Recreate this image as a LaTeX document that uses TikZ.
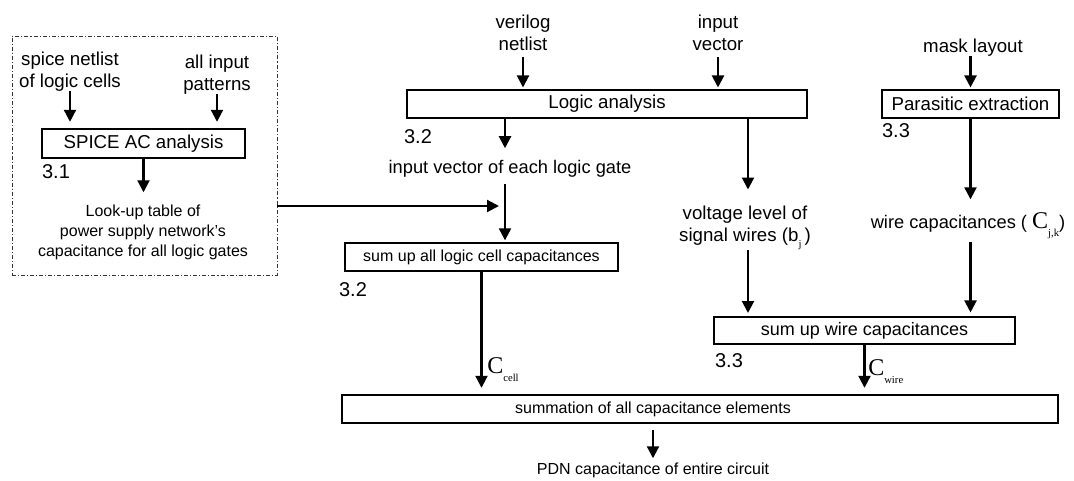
\documentclass[tikz,border=0pt]{standalone}
\usepackage{fontspec}
\setmainfont{Liberation Sans}
\newfontfamily\timesfont{Liberation Serif}
\usetikzlibrary{arrows.meta}

\newcommand{\capC}[1]{{\timesfont\fontsize{18}{18}\selectfont C\raisebox{-6pt}{\fontsize{8}{8}\selectfont #1}}}
\newcommand{\subsc}[1]{\raisebox{-5pt}{\timesfont\fontsize{8}{8}\selectfont #1}}

\tikzset{
  box/.style={draw, line width=0.8pt, inner sep=0pt, minimum height=21pt, font=\fontsize{14}{16.5}\selectfont},
  txt/.style={inner sep=0pt, align=center, font=\fontsize{14}{16.5}\selectfont},
  smalltxt/.style={inner sep=0pt, align=center, font=\fontsize{12}{15}\selectfont},
  numlbl/.style={inner sep=0pt, font=\fontsize{15}{15}\selectfont},
  arr/.style={-{Triangle[width=9pt,length=9pt]}, line width=1.6pt},
  grp/.style={draw=black!80, line width=0.7pt, inner sep=0pt, dash pattern=on 3pt off 1.5pt on 0.8pt off 1.5pt},
}

\begin{document}
\begin{tikzpicture}[x=0.75pt, y=-0.75pt]
    \useasboundingbox (0,0) rectangle (1074,481);
    % cell library block
    \node[grp, minimum width=198.75pt, minimum height=179.25pt] (lutgroup) at (144.5,155.5) {};
    \node[txt] (spicenet) at (70,71.5) {spice netlist\\of logic cells};
    \node[txt] (allpat) at (217,74.5) {all input\\patterns};
    \node[box, minimum width=152.25pt, minimum height=21.75pt] (spice) at (143.5,143.5) {SPICE AC analysis};
    \node[numlbl] (n31) at (56,172) {3.1};
    \node[smalltxt] (lut) at (143,232) {Look-up table of\\power supply network’s\\capacitance for all logic gates};
    \draw[arr, shorten >=5pt] (spicenet.south) -- (spicenet.south |- spice.north);
    \draw[arr, shorten >=5pt] (allpat.south) -- (allpat.south |- spice.north);
    \draw[arr, shorten >=9pt] (spice.south) -- (spice.south |- lut.north);
    % logic analysis
    \node[txt] (verilog) at (523,32.5) {verilog\\netlist};
    \node[txt] (invec) at (718,32.5) {input\\vector};
    \node[box, minimum width=300pt] (logic) at (607,104) {Logic analysis};
    \node[numlbl] (n32a) at (418,137) {3.2};
    \node[txt, font=\fontsize{13.7}{16}\selectfont] (gatevec) at (510,169) {input vector of each logic gate};
    \coordinate (cellin) at (505,243);
    \coordinate (lutout) at (499,206);
    \node[box, minimum width=204.75pt, font=\fontsize{12}{14}\selectfont] (sumlogic) at (481.5,257) {sum up all logic cell capacitances};
    \node[numlbl] (n32b) at (353,290) {3.2};
    \draw[arr, shorten <=5pt, shorten >=1.5pt] (verilog.south) -- (verilog.south |- logic.north);
    \draw[arr, shorten <=5pt, shorten >=1.5pt] (invec.south) -- (invec.south |- logic.north);
    \draw[arr, shorten >=9pt] (logic.south -| cellin) -- (gatevec.north -| cellin);
    \draw[arr, shorten <=5pt, shorten >=2pt] (gatevec.south -| cellin) -- (cellin);
    \draw[arr] (lutgroup.east |- lutout) -- (lutout);
    % wires
    \node[txt] (mask) at (973,47.5) {mask layout};
    \node[box, minimum width=132.75pt] (parasitic) at (970.5,104) {Parasitic extraction};
    \node[numlbl] (n33a) at (896,131) {3.3};
    \node[txt] (volt) at (745,228) {voltage level of\\signal wires (b\subsc{j}\,)};
    \node[txt, font=\fontsize{13.7}{16}\selectfont] (wirecap) at (968,226) {wire capacitances ( \capC{j,k})};
    \coordinate (wirein) at (748,317);
    \node[box, minimum width=225.75pt, minimum height=20.25pt, font=\fontsize{13.5}{16}\selectfont] (sumwire) at (864.5,330.5) {sum up wire capacitances};
    \node[numlbl] (n33b) at (729,361) {3.3};
    \draw[arr, shorten >=1.5pt] (mask.south -| parasitic.north) -- (parasitic.north);
    \draw[arr, shorten >=12pt] (logic.south -| wirein) -- (volt.north -| wirein);
    \draw[arr, shorten >=3pt] (volt.south -| wirein) -- (wirein);
    \draw[arr, shorten >=10pt] (parasitic.south) -- (parasitic.south |- wirecap.north);
    \draw[arr, shorten <=2pt, shorten >=3pt] (wirecap.south -| parasitic.south) -- (sumwire.north -| parasitic.south);
    % total
    \node[box, minimum width=537pt] (summation) at (700,409) {};
    \node[smalltxt] (sumtext) at (653,409) {summation of all capacitance elements};
    \node[smalltxt] (pdn) at (653,470) {PDN capacitance of entire circuit};
    \node[anchor=base west, inner sep=0pt] (ccell) at (487,373) {\capC{cell}};
    \node[anchor=base west, inner sep=0pt] (cwire) at (868,375) {\capC{wire}};
    \draw[arr, shorten >=5pt] (sumlogic.south) -- (sumlogic.south |- summation.north);
    \draw[arr, shorten >=5pt] (sumwire.south) -- (sumwire.south |- summation.north);
    \draw[arr, shorten <=4.5pt, shorten >=3pt] (sumtext.south |- summation.south) -- (pdn.north);
\end{tikzpicture}
\end{document}
